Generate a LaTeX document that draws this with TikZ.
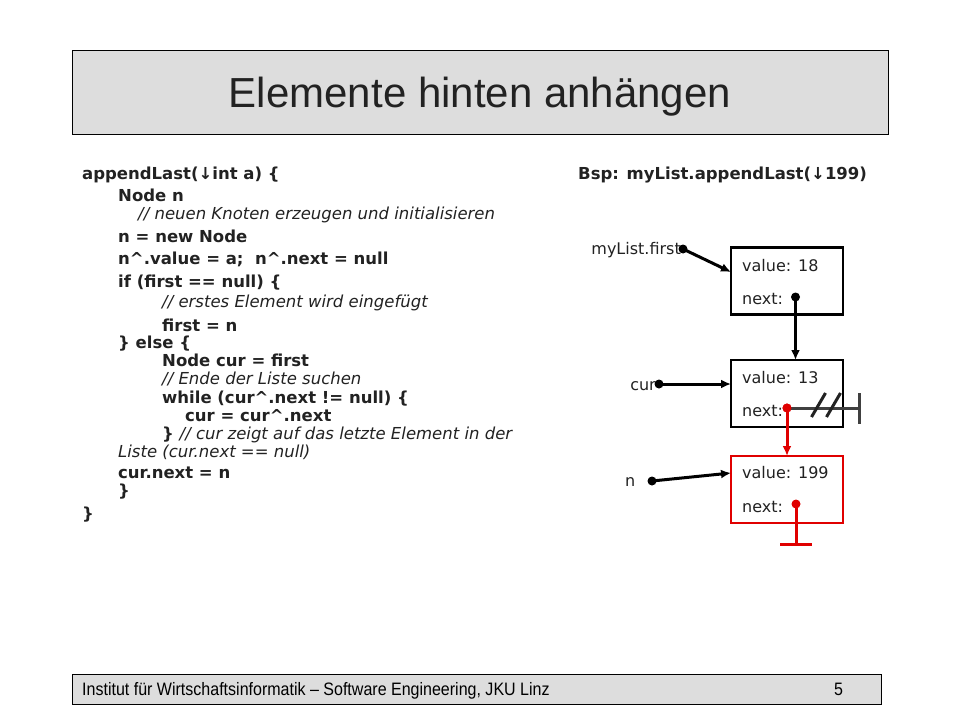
\documentclass[tikz,border=0pt]{standalone}
\usepackage{fontspec}
\usepackage{graphicx}
\setmainfont{DejaVu Sans}
\newfontfamily\titlefont{Liberation Sans}
\usetikzlibrary{arrows.meta}
\definecolor{redc}{HTML}{E00000}
\definecolor{boxgray}{HTML}{DDDDDD}
\definecolor{txt}{HTML}{222222}
\definecolor{dgray}{HTML}{404040}
\tikzset{
  code/.style={anchor=base west,inner sep=0pt,text=txt,font=\bfseries\fontsize{16.5}{16.5}\selectfont},
  cmt/.style={anchor=base west,inner sep=0pt,text=txt,font=\itshape\fontsize{16.5}{16.5}\selectfont},
  lbl/.style={anchor=base west,inner sep=0pt,text=txt,font=\fontsize{16}{16}\selectfont},
  lnode/.style={draw=black,line width=2.2pt,minimum width=112pt,minimum height=67pt,inner sep=0pt},
  rnode/.style={draw=redc,line width=2.2pt,minimum width=112pt,minimum height=67pt,inner sep=0pt},
  dot/.style={circle,fill=black,minimum size=9pt,inner sep=0pt},
  rdot/.style={circle,fill=redc,minimum size=9pt,inner sep=0pt},
  ptr/.style={line width=3pt,-{Latex[length=10pt,width=9pt]}},
}
\begin{document}
\begin{tikzpicture}[x=1pt,y=-1pt]
\useasboundingbox[fill=white] (0,0) rectangle (960,720);
% title
\node[draw=black,fill=boxgray,line width=0.8pt,minimum width=816pt,minimum height=84pt,inner sep=0pt] (title) at (480,92) {};
\node[text=txt,font=\titlefont\fontsize{42}{42}\selectfont,inner sep=0pt] (ttext) at (480,97) {Elemente hinten anhängen};
% footer
\node[draw=black,fill=boxgray,line width=0.8pt,minimum width=809pt,minimum height=30pt,inner sep=0pt] (foot) at (476.5,689) {};
\node[anchor=base west,inner sep=0pt,text=black,font=\titlefont\fontsize{18}{18}\selectfont] (ftext) at (82,695.5) {\scalebox{0.89}[1]{Institut für Wirtschaftsinformatik – Software Engineering, JKU Linz}};
\node[anchor=base west,inner sep=0pt,text=black,font=\titlefont\fontsize{18}{18}\selectfont] (fnum) at (834,695.5) {\scalebox{0.89}[1]{5}};
% code
\node[code] (c1) at (82,179) {appendLast(↓int a) \{};
\node[code] (c2) at (118,201) {Node n};
\node[cmt] (c3) at (138,219) {// neuen Knoten erzeugen und initialisieren};
\node[code] (c4) at (118,242) {n = new Node};
\node[code] (c5) at (118,264) {n\textasciicircum.value = a;\ \ n\textasciicircum.next = null};
\node[code] (c6) at (118,287) {if (first == null) \{};
\node[cmt] (c7) at (162,307) {// erstes Element wird eingefügt};
\node[code] (c8) at (162,331) {first = n};
\node[code] (c9) at (118,348) {\} else \{};
\node[code] (c10) at (162,366) {Node cur = first};
\node[cmt] (c11) at (162,384) {// Ende der Liste suchen};
\node[code] (c12) at (162,403) {while (cur\textasciicircum.next != null) \{};
\node[code] (c13) at (185,421) {cur = cur\textasciicircum.next};
\node[code] (c14) at (162,439) {\} {\mdseries\itshape // cur zeigt auf das letzte Element in der}};
\node[cmt] (c15) at (118,457) {Liste (cur.next == null)};
\node[code] (c16) at (118,478) {cur.next = n};
\node[code] (c17) at (118,496) {\}};
\node[code] (c18) at (82,519) {\}};
% example
\node[code] (bsp) at (578,179) {Bsp: myList.appendLast(↓199)};
% boxes
\node[lnode] (b1) at (787,281) {};
\node[lbl] (v1) at (742,271) {value: 18};
\node[lbl] (n1) at (742,304) {next:};
\node[lnode] (b2) at (787,393.5) {};
\node[lbl] (v2) at (742,383) {value: 13};
\node[lbl] (n2) at (742,416) {next:};
\node[rnode] (b3) at (787,489.5) {};
\node[lbl] (v3) at (742,478) {value: 199};
\node[lbl] (n3) at (742,512) {next:};
% pointer labels
\node[lbl,anchor=base east] (lfirst) at (681,254) {myList.first};
\node[lbl,anchor=base east] (lcur) at (656,390) {cur};
\node[lbl] (ln) at (625,486) {n};
% dots
\node[dot] (dfirst) at (683,249) {};
\node[dot] (dcur) at (659,384) {};
\node[dot] (dn) at (652,481) {};
\node[dot] (d1) at (795.5,297) {};
% coordinates
\coordinate (b1in) at (731,272);
\coordinate (b2in) at (731,384);
\coordinate (b3in) at (731,473);
\coordinate (b2top) at (795.5,360);
\coordinate (b3top) at (787,456);
\coordinate (oldend) at (859,408);
\coordinate (nullend) at (796,544);
% arrows
\draw[ptr] (dfirst.center) -- (b1in);
\draw[ptr] (d1.center) -- (b2top);
\draw[ptr] (dcur.center) -- (b2in);
\draw[ptr] (dn.center) -- (b3in);
% old null pointer (crossed out)
\node[rdot] (d2) at (787,408) {};
\draw[dgray,line width=3pt] (d2.center) -- (oldend);
\draw[dgray,line width=3pt] (oldend) ++(0,-15) -- ++(0,31);
\draw[txt,line width=3pt] (811.5,417) -- (825.5,393);
\draw[txt,line width=3pt] (826.5,417) -- (840.5,393);
\node[rdot] (d2b) at (787,408) {};
% new pointer
\draw[ptr,redc] (d2b.center) -- (b3top);
\node[rdot] (d3) at (796,504) {};
\draw[redc,line width=3pt] (d3.center) -- (nullend);
\draw[redc,line width=3pt] (nullend) ++(-16,0) -- ++(32,0);
\end{tikzpicture}
\end{document}
